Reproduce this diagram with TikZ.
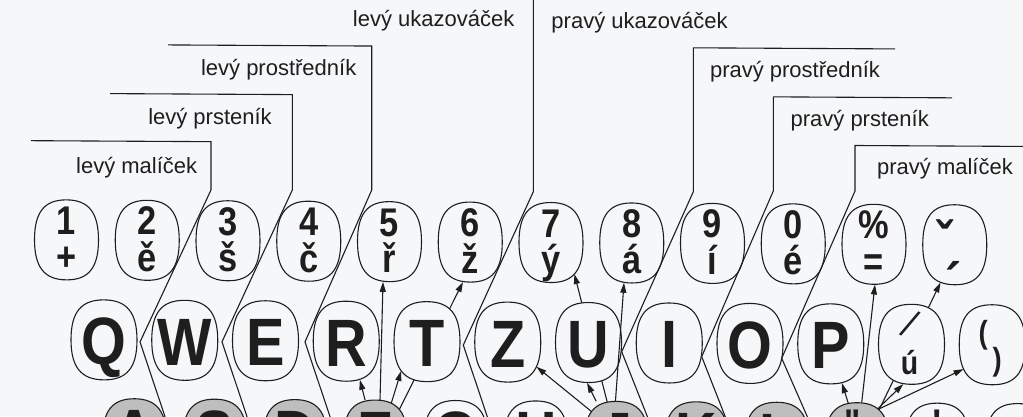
\documentclass[tikz,border=0pt]{standalone}
\usepackage{fontspec}
\setmainfont{Liberation Sans}
\newfontfamily\labelfont{Liberation Sans}
\newfontfamily\keyfont[FakeStretch=0.86]{Liberation Sans}
\usetikzlibrary{arrows.meta,calc}
\pgfdeclarelayer{back}
\pgfsetlayers{back,main}
\definecolor{bgcol}{RGB}{246,247,249}
\definecolor{inkcol}{RGB}{30,30,30}
\definecolor{shadecol}{RGB}{190,190,190}
\tikzset{
  pics/keyoval/.style n args={3}{code={
    \filldraw[draw=inkcol, line width=1.1pt, fill=#3]
      (0,-#2) .. controls ({0.69*#1},-#2) and (#1,{-0.69*#2}) .. (#1,0)
      .. controls (#1,{0.69*#2}) and ({0.69*#1},#2) .. (0,#2)
      .. controls ({-0.69*#1},#2) and (-#1,{0.69*#2}) .. (-#1,0)
      .. controls (-#1,{-0.69*#2}) and ({-0.69*#1},-#2) .. cycle;
  }}
}
\begin{document}
\begin{tikzpicture}[x={(1pt,-0.0055pt)}, y={(0pt,-1pt)},
  slot/.style={inner sep=0pt, minimum height=80pt},
  numkey/.style={slot, minimum width=64pt},
  qkey/.style={slot, minimum width=66pt},
  homekey/.style={slot, minimum width=64pt},
  glyph/.style={anchor=base, inner sep=0pt, text=inkcol},
  numtxt/.style={glyph, font=\keyfont\bfseries\fontsize{40}{40}\selectfont},
  bigtxt/.style={glyph, font=\keyfont\bfseries\fontsize{67}{67}\selectfont},
  lbl/.style={glyph, font=\labelfont\fontsize{22}{22}\selectfont},
  zone/.style={draw=inkcol, line width=1.1pt, line join=miter},
  arr/.style={draw=inkcol, line width=1.1pt, -{Triangle[length=10pt,width=6pt]}},
]
\useasboundingbox (0pt,0pt) rectangle (1023pt,-416pt);

% number row
\foreach \i/\tA/\tB in {0/1/+,1/2/ě,2/3/š,3/4/č,4/5/ř,5/6/ž,6/7/ý,7/8/á,8/9/í,9/0/é,10/\%/=}{
  \node[numkey] (n\i) at ({66.5+80.75*\i},239.5) {};
  \pic at (n\i) {keyoval={32}{40}{bgcol}};
  \node[numtxt, yshift=5.5pt] (nu\i) at (n\i) {\tA};
  \node[numtxt, yshift=-31pt] (nl\i) at (n\i) {\tB};
}
\node[numkey] (n11) at ({66.5+80.75*11},239.5) {};
\pic at (n11) {keyoval={32}{40}{bgcol}};
\node[glyph, font=\keyfont\bfseries\fontsize{56}{56}\selectfont, xshift=-10pt, yshift=-17pt] (nu11) at (n11) {ˇ};
\node[glyph, font=\keyfont\bfseries\fontsize{56}{56}\selectfont, xshift=-1pt, yshift=-58pt] (nl11) at (n11) {´};

% qwertz row
\foreach \i/\ltr in {0/Q,1/W,2/E,3/R,4/T,5/Z,6/U,7/I,8/O,9/P}{
  \node[qkey] (q\i) at ({104+80.75*\i},339.3) {};
  \pic at (q\i) {keyoval={33}{40}{bgcol}};
  \node[bigtxt, yshift=-25pt] (qt\i) at (q\i) {\ltr};
}
\node[qkey] (q10) at ({104+80.75*10},339.3) {};
\pic at (q10) {keyoval={33}{40}{bgcol}};
\node[inner sep=0pt, text=inkcol, font=\keyfont\fontsize{40}{40}\selectfont, xshift=-1pt, yshift=20pt, rotate=-27] (qt10a) at (q10) {/};
\node[glyph, font=\keyfont\bfseries\fontsize{33}{33}\selectfont, xshift=-2pt, yshift=-30pt] (qt10b) at (q10) {ú};
\node[qkey] (q11) at ({104+80.75*11},339.3) {};
\pic at (q11) {keyoval={33}{40}{bgcol}};
\node[glyph, font=\keyfont\bfseries\fontsize{32}{32}\selectfont, xshift=-9pt, yshift=1pt] (qt11a) at (q11) {(};
\node[glyph, font=\keyfont\bfseries\fontsize{32}{32}\selectfont, xshift=5pt, yshift=-25.4pt] (qt11b) at (q11) {)};

% home row
\foreach \i/\ltr/\col in {0/A/shadecol,1/S/shadecol,2/D/shadecol,3/F/shadecol,4/G/bgcol,5/H/bgcol,6/J/shadecol,7/K/shadecol,8/L/shadecol}{
  \node[homekey] (h\i) at ({134.5+80.3*\i},438) {};
  \pic at (h\i) {keyoval={32}{40}{\col}};
  \node[bigtxt, yshift=-18pt] (ht\i) at (h\i) {\ltr};
}
\node[homekey] (h9) at ({134.5+80.3*9},438) {};
\pic at (h9) {keyoval={32}{40}{shadecol}};
\node[numtxt, xshift=-5pt, yshift=5.5pt] (ht9) at (h9) {"};
\node[homekey] (h10) at ({134.5+80.3*10},438) {};
\pic at (h10) {keyoval={32}{40}{bgcol}};
\node[numtxt, yshift=5.5pt] (ht10) at (h10) {!};
\node[homekey] (h11) at ({134.5+80.3*11},438) {};
\pic at (h11) {keyoval={32}{40}{bgcol}};

% arrows (behind the keys)
\begin{pgfonlayer}{back}
\fill[bgcol] (0pt,0pt) rectangle (1023pt,-416pt);
\draw[arr] (h3) -- ($(q3)+(13.6,38.5)$);
\draw[arr] ($(h3)+(3.6,0)$) -- ($(n4)+(-6.5,40.2)$);
\draw[arr] ($(h3)+(4.5,0)$) -- ($(q4)+(-25.8,29.4)$);
\draw[arr] ($(h3)+(8.6,0)$) -- ($(n5)+(-7.3,40)$);
\draw[arr] ($(h6)+(12,0)$) -- ($(q5)+(28.7,24.5)$);
\draw[arr] (h6) -- ($(q6)+(-1.5,40.3)$);
\draw[arr] ($(h6)+(1,0)$) -- ($(n6)+(23.4,31.4)$);
\draw[arr] ($(h9)+(3.5,0)$) -- ($(q9)+(11.2,39.2)$);
\draw[arr] (h9) -- ($(n10)+(1,40.2)$);
\draw[arr] ($(h9)+(-14.5,0)$) -- ($(q10)+(-8.2,39.8)$);
\draw[arr] ($(h9)+(6,0)$) -- ($(n11)+(-14.25,37.9)$);
\draw[arr] ($(h9)+(19.3,-32.7)$) -- ($(q11)+(-28.7,24.5)$);
\end{pgfonlayer}
\draw[arr] ($(h6)+(-0.9,-39.5)$) -- ($(n7)+(-7.75,39.8)$);

% finger zones
\draw[zone] (31,140.5) -- (211,140.5) -- (211,188.8) -- (140,341.2) -- (168.1,425);
\draw[zone] (110,93) -- (292.3,93) -- (292.3,188.4) -- (222,340.6) -- (250.1,424.6);
\draw[zone] (168,44) -- (371.7,44) -- (371.7,188) -- (305,340.2) -- (333.2,424.4);
\draw[zone] (533.3,-5) -- (533.3,188.8) -- (463.3,342.5) -- (490.8,424.5);
\draw[zone] (895,44) -- (693.3,44) -- (693.3,187.9) -- (621.7,348.3) -- (652.5,426);
\draw[zone] (952,92.6) -- (773.3,92.6) -- (773.3,186.7) -- (701.7,352.8) -- (730.1,425);
\draw[zone] (1030,140.8) -- (855,140.8) -- (855,186.3) -- (781.7,354) -- (813.5,426.3);

% labels
\node[lbl] (lmal) at (136.7,172.5) {levý malíček};
\node[lbl] (lprs) at (210,122.9) {levý prsteník};
\node[lbl] (lpro) at (278.7,73.5) {levý prostředník};
\node[lbl] (luka) at (433.7,24.3) {levý ukazováček};
\node[lbl] (puka) at (639.5,24.8) {pravý ukazováček};
\node[lbl] (ppro) at (795,72.9) {pravý prostředník};
\node[lbl] (pprs) at (859.7,121.9) {pravý prsteník};
\node[lbl] (pmal) at (945,169.8) {pravý malíček};
\end{tikzpicture}
\end{document}
